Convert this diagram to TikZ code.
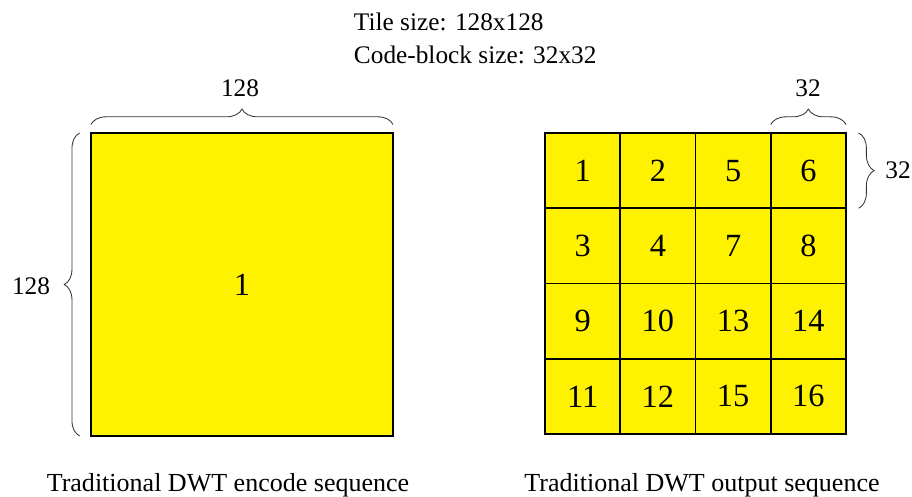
\documentclass[tikz,border=0pt]{standalone}
\usepackage{fontspec}
\setmainfont{Liberation Serif}
\usetikzlibrary{decorations.pathreplacing}

\begin{document}
\begin{tikzpicture}[
  x=0.025cm, y=-0.025cm,
  block/.style={draw,line width=1.4pt,fill=yellow,inner sep=0pt,outer sep=0pt,
                font=\fontsize{23}{26}\selectfont},
  cell/.style={block,minimum width=1.881cm,minimum height=1.881cm},
  bracemark/.style={decorate,decoration={brace,amplitude=#1},
                    draw=black!80,line width=0.6pt},
  bracemark/.default=10pt,
  dimtext/.style={font=\fontsize{18}{21}\selectfont},
  caption/.style={font=\fontsize{18.5}{21}\selectfont},
]
\path[use as bounding box] (0,0) rectangle (912,497);

% === Header ===
\node[dimtext,anchor=west] (tile) at (349,22) {Tile size: 128x128};
\node[dimtext,anchor=west] (cblk) at (349,55) {Code-block size: 32x32};

% === Left: one tile ===
\node[block,minimum width=7.55cm,minimum height=7.575cm] (enc) at (242,284.5) {1};

\draw[bracemark=11pt] ([yshift=6]enc.north west) -- ([yshift=6]enc.north east)
  coordinate[midway] (topmid);
\node[dimtext] (toplab) at (240,88) {128};

\draw[bracemark=11pt] ([xshift=-8]enc.south west) -- ([xshift=-8]enc.north west);
\node[dimtext] (leftlab) at (31,286) {128};

% === Right: 4x4 code-blocks ===
\foreach \num [count=\i from 0] in {1,2,5,6,3,4,7,8,9,10,13,14,11,12,15,16} {
  \pgfmathtruncatemacro{\col}{mod(\i,4)}
  \pgfmathtruncatemacro{\row}{div(\i,4)}
  \node[cell] (c\num) at ({545+75.25*(\col+0.5)},{133+75.25*(\row+0.5)}) {\num};
}

\draw[bracemark=11pt] ([yshift=6]c6.north west) -- ([yshift=6]c6.north east);
\node[dimtext] (cwlab) at (808,88) {32};

\draw[bracemark=11pt] ([xshift=9]c6.north east) -- ([xshift=9]c6.south east);
\node[dimtext] (chlab) at (898,170) {32};

% === Captions ===
\node[caption] (enccap) at (228,485) {Traditional DWT encode sequence};
\node[caption] (outcap) at (702,485) {Traditional DWT output sequence};

\end{tikzpicture}
\end{document}
